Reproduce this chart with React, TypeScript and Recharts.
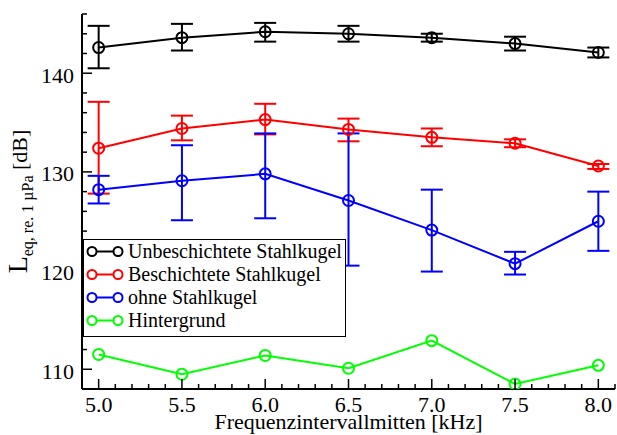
import React from "react";
import { LineChart, Line, XAxis, YAxis, ErrorBar, Legend, Label } from "recharts";

const FONT = '"Liberation Serif", "Times New Roman", serif';

// Frequenzintervallmitten [kHz]
const freqs = [5.0, 5.5, 6.0, 6.5, 7.0, 7.5, 8.0];

// Unbeschichtete Stahlkugel
const unbeschichtet = [142.6, 143.6, 144.2, 144.0, 143.6, 143.0, 142.1];
const unbeschichtetHigh = [144.8, 145.0, 145.1, 144.8, 144.0, 143.7, 142.6];
const unbeschichtetLow = [140.5, 142.3, 143.2, 143.2, 143.2, 142.3, 141.6];

// Beschichtete Stahlkugel
const beschichtet = [132.4, 134.4, 135.3, 134.3, 133.5, 132.9, 130.6];
const beschichtetHigh = [137.1, 135.7, 136.9, 135.4, 134.4, 133.3, 130.8];
const beschichtetLow = [127.8, 133.2, 133.8, 133.1, 132.6, 132.5, 130.3];

// ohne Stahlkugel
const ohne = [128.2, 129.1, 129.8, 127.1, 124.1, 120.7, 125.0];
const ohneHigh = [129.6, 132.7, 133.9, 133.9, 128.2, 121.9, 128.0];
const ohneLow = [126.8, 125.1, 125.3, 120.5, 119.9, 119.6, 122.0];

// Hintergrund
const hintergrund = [111.5, 109.5, 111.4, 110.1, 112.9, 108.5, 110.4];

const xMajor = [5.0, 5.5, 6.0, 6.5, 7.0, 7.5, 8.0];
const xAll = [
  4.9, 5.0, 5.1, 5.2, 5.3, 5.4, 5.5, 5.6, 5.7, 5.8, 5.9, 6.0, 6.1, 6.2, 6.3, 6.4, 6.5,
  6.6, 6.7, 6.8, 6.9, 7.0, 7.1, 7.2, 7.3, 7.4, 7.5, 7.6, 7.7, 7.8, 7.9, 8.0, 8.1,
];
const yMajor = [110, 120, 130, 140];
const yAll = [
  108, 110, 112, 114, 116, 118, 120, 122, 124, 126, 128, 130, 132, 134, 136, 138, 140,
  142, 144, 146,
];

const series = [
  { key: "unb", name: "Unbeschichtete Stahlkugel", color: "#000000", values: unbeschichtet, low: unbeschichtetLow, high: unbeschichtetHigh },
  { key: "bes", name: "Beschichtete Stahlkugel", color: "#ff0000", values: beschichtet, low: beschichtetLow, high: beschichtetHigh },
  { key: "ohne", name: "ohne Stahlkugel", color: "#0000ff", values: ohne, low: ohneLow, high: ohneHigh },
  { key: "hg", name: "Hintergrund", color: "#00ff00", values: hintergrund, low: null, high: null },
];

const data = freqs.map((f, i) => {
  const row: Record<string, any> = { f };
  series.forEach((s) => {
    row[s.key] = s.values[i];
    if (s.low && s.high) {
      row[s.key + "Err"] = [s.values[i] - s.low[i], s.high[i] - s.values[i]];
    }
  });
  return row;
});

const isMajor = (list: number[], v: number) => list.some((m) => Math.abs(m - v) < 1e-6);
const axisLine = { stroke: "#000", strokeWidth: 2 };

const BottomTick = (p: any) => {
  const v = p.payload.value;
  const major = isMajor(xMajor, v);
  return (
    <g>
      <line x1={p.x} y1={p.y} x2={p.x} y2={p.y - (major ? 10 : 5)} stroke="#000" strokeWidth={1.5} />
      {major && (
        <text x={p.x} y={p.y + 23} textAnchor="middle" fontSize={22} fontFamily={FONT} fill="#000">
          {v.toFixed(1)}
        </text>
      )}
    </g>
  );
};

const TopTick = (p: any) => {
  const major = isMajor(xMajor, p.payload.value);
  return <line x1={p.x} y1={p.y} x2={p.x} y2={p.y + (major ? 10 : 5)} stroke="#000" strokeWidth={1.5} />;
};

const LeftTick = (p: any) => {
  const v = p.payload.value;
  const major = isMajor(yMajor, v);
  return (
    <g>
      <line x1={p.x} y1={p.y} x2={p.x + (major ? 10 : 5)} y2={p.y} stroke="#000" strokeWidth={1.5} />
      {major && (
        <text x={p.x - 8} y={p.y + 9.5} textAnchor="end" fontSize={22} fontFamily={FONT} fill="#000">
          {v}
        </text>
      )}
    </g>
  );
};

const RightTick = (p: any) => {
  const major = isMajor(yMajor, p.payload.value);
  return <line x1={p.x} y1={p.y} x2={p.x - (major ? 10 : 5)} y2={p.y} stroke="#000" strokeWidth={1.5} />;
};

const XTitle = (props: any) => {
  const vb = props.viewBox || { x: 82, y: 389, width: 533, height: 46 };
  return (
    <text x={vb.x + vb.width / 2} y={vb.y + 40} textAnchor="middle" fontSize={22} fontFamily={FONT} fill="#000">
      Frequenzintervallmitten [kHz]
    </text>
  );
};

const YTitle = (props: any) => {
  const vb = props.viewBox || { x: 0, y: 14, width: 82, height: 375 };
  const cx = vb.x + 27;
  const cy = vb.y + vb.height / 2;
  return (
    <text x={cx} y={cy} transform={`rotate(-90, ${cx}, ${cy})`} textAnchor="middle" fontFamily={FONT} fill="#000">
      <tspan fontSize={28}>L</tspan>
      <tspan fontSize={16} dy={6}>eq, re. 1 µPa</tspan>
      <tspan fontSize={22} dy={-6}> [dB]</tspan>
    </text>
  );
};

const LegendBox = () => (
  <div
    style={{
      boxSizing: "border-box",
      width: 263,
      height: 98,
      border: "1.5px solid #000",
      background: "#fff",
      fontFamily: FONT,
      fontSize: 20,
      color: "#000",
    }}
  >
    {series.map((s) => (
      <div key={s.key} style={{ display: "flex", alignItems: "center", height: 23, lineHeight: "23px" }}>
        <svg width={44} height={23} style={{ flex: "none" }}>
          <line x1={8} y1={11.5} x2={34} y2={11.5} stroke={s.color} strokeWidth={2} />
          <circle cx={8} cy={11.5} r={4.5} fill="#fff" stroke={s.color} strokeWidth={2} />
          <circle cx={34} cy={11.5} r={4.5} fill="#fff" stroke={s.color} strokeWidth={2} />
        </svg>
        <span style={{ whiteSpace: "nowrap" }}>{s.name}</span>
      </div>
    ))}
  </div>
);

export default function App() {
  return (
    <div style={{ position: "absolute", left: 0, top: 0, width: 617, height: 435, background: "#fff" }}>
      <LineChart width={617} height={435} data={data} margin={{ top: 14, right: 2, bottom: 0, left: 0 }}>
        <XAxis
          xAxisId="b"
          dataKey="f"
          type="number"
          domain={[4.9, 8.1]}
          allowDataOverflow
          ticks={xAll}
          interval={0}
          tickSize={0}
          tickMargin={0}
          tickLine={false}
          axisLine={axisLine}
          tick={BottomTick}
          height={46}
        >
          <Label content={XTitle} />
        </XAxis>
        <XAxis
          xAxisId="t"
          orientation="top"
          dataKey="f"
          type="number"
          domain={[4.9, 8.1]}
          allowDataOverflow
          ticks={xAll}
          interval={0}
          tickSize={0}
          tickMargin={0}
          tickLine={false}
          axisLine={axisLine}
          tick={TopTick}
          height={0}
        />
        <YAxis
          yAxisId="l"
          type="number"
          domain={[108, 146]}
          allowDataOverflow
          ticks={yAll}
          interval={0}
          tickSize={0}
          tickMargin={0}
          tickLine={false}
          axisLine={axisLine}
          tick={LeftTick}
          width={82}
        >
          <Label content={YTitle} />
        </YAxis>
        <YAxis
          yAxisId="r"
          orientation="right"
          type="number"
          domain={[108, 146]}
          allowDataOverflow
          ticks={yAll}
          interval={0}
          tickSize={0}
          tickMargin={0}
          tickLine={false}
          axisLine={axisLine}
          tick={RightTick}
          width={0}
        />
        <Legend
          layout="vertical"
          align="center"
          verticalAlign="middle"
          content={LegendBox}
          wrapperStyle={{ left: 83, top: 239, width: 263, height: 98 }}
        />
        {series.map((s) => (
          <Line
            key={s.key}
            xAxisId="b"
            yAxisId="l"
            dataKey={s.key}
            name={s.name}
            type="linear"
            stroke={s.color}
            strokeWidth={2}
            dot={{ r: 5.5, stroke: s.color, strokeWidth: 2, fill: "none" }}
            activeDot={false}
            isAnimationActive={false}
          >
            {s.low && (
              <ErrorBar dataKey={s.key + "Err"} direction="y" width={11} stroke={s.color} strokeWidth={2} />
            )}
          </Line>
        ))}
      </LineChart>
    </div>
  );
}
